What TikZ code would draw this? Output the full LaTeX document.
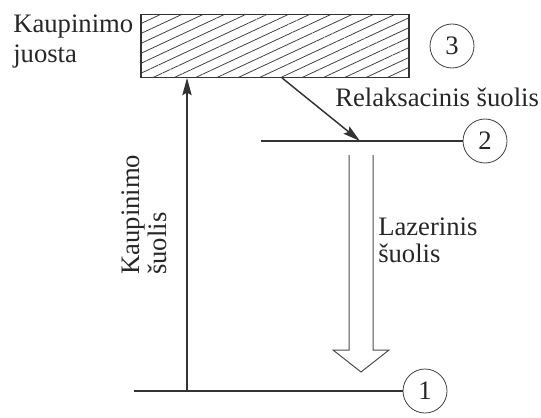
\documentclass[tikz,border=0pt]{standalone}
\usepackage{fontspec}
\setmainfont{Liberation Serif}
\usetikzlibrary{arrows.meta,positioning,patterns.meta}

\begin{document}
\begin{tikzpicture}[
  x=0.75pt, y=-0.75pt,
  font=\fontsize{20}{20}\selectfont,
  band/.style={draw=black!80, line width=1pt, minimum width=201pt, minimum height=47.25pt, inner sep=0pt,
    pattern={Lines[angle=25,distance=6.75pt,line width=0.6pt]}, pattern color=black!75},
  num/.style={draw=black!75, circle, line width=0.6pt, minimum size=33pt, inner sep=0pt, text=black!85},
  level/.style={draw=black!80, line width=1.2pt},
  arr/.style={-{Stealth[length=13pt,width=7pt,inset=2pt]}, line width=1.1pt, black!80},
  hollow/.style={draw=black!70, line width=0.75pt, line join=miter},
  lab/.style={inner sep=0pt, text=black!85, align=left}
]
\useasboundingbox (0,0) rectangle (541,417);
% levels
\node[band] (band) at (275,46) {};
\node[num] (n3) at (452,46) {3};
\node[num] (n2) at (485,141) {2};
\node[num] (n1) at (425,391) {1};
\coordinate (l2) at (261,141);
\coordinate (l1) at (134,391);
\draw[level] (l2) -- (n2.west);
\draw[level] (l1) -- (n1.west);
% labels
\node[lab, anchor=north west, font=\fontsize{20}{22.5}\selectfont] (bandlab) at (13,15) {Kaupinimo\\juosta};
\node[lab, anchor=base west] (relaxlab) at (335,107) {Relaksacinis šuolis};
\node[lab, anchor=north west] (laserlab) at (378,218) {Lazerinis\\šuolis};
\node[lab, rotate=90, anchor=south west] (pumplab) at (167,275) {Kaupinimo\\šuolis};
% transitions
\coordinate (pump) at (187,391);
\coordinate (relax) at (360,141);
\draw[arr] (pump) -- (pump |- band.south);
\draw[arr] ([xshift=5.25pt]band.south) -- (relax);
\draw[hollow] (349,155) -- (349,350) -- (333,350) -- (361,372) -- (389,350) -- (373,350) -- (373,155);
\end{tikzpicture}
\end{document}
